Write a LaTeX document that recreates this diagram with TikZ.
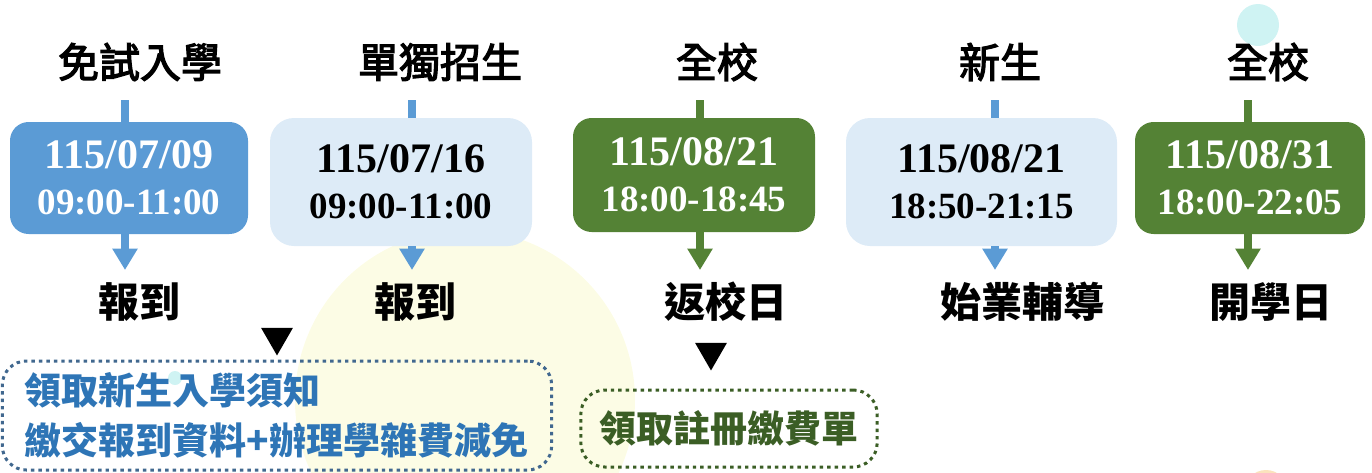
\documentclass[tikz,border=0pt]{standalone}
\usepackage{fontspec}
\setmainfont{Liberation Serif}
\newfontfamily\cjk{Noto Sans CJK TC}
\newfontfamily\cjkmid{Noto Sans CJK TC}[RawFeature={embolden=3}]
\usepackage{tikz}
\usetikzlibrary{positioning,shapes.geometric,arrows.meta}

\definecolor{boxblue}{HTML}{5B9BD5}
\definecolor{paleblue}{HTML}{DDEBF7}
\definecolor{boxgreen}{HTML}{548235}
\definecolor{noteblue}{HTML}{2E75B6}
\definecolor{noteline}{HTML}{41688F}
\definecolor{notegreen}{HTML}{3B5E25}
\definecolor{paleyellow}{HTML}{FCFCE5}
\definecolor{paleaqua}{HTML}{CFF3F3}
\definecolor{paleorange}{HTML}{FBE3BD}

\newcommand{\bigdate}[2]{{\fontsize{31.5}{34.5}\selectfont #1}\\#2}

\tikzset{
	datebox/.style={rectangle, rounded corners=14pt, align=center, inner sep=0pt, font=\bfseries\fontsize{27.75}{34.5}\selectfont},
	darkbox/.style={datebox, fill=#1, text=white},
	lightbox/.style={datebox, fill=paleblue, text=black, rounded corners=18pt},
	heading/.style={font=\cjkmid\fontsize{30.75}{36}\selectfont, inner sep=0pt},
	tag/.style={font=\cjk\bfseries\fontsize{30.75}{36}\selectfont, inner sep=0pt},
	stem/.style={line width=6pt, draw=#1},
	stemtip/.style={stem=#1, -{Triangle[width=18pt,length=16pt]}},
	notebox/.style={draw=#1, line width=2.25pt, dash pattern=on 2.6pt off 3pt, rounded corners=18pt, align=left, font=\cjk\bfseries\fontsize{27.75}{37.5}\selectfont},
	pointer/.style={regular polygon, regular polygon sides=3, shape border rotate=180, fill=black, minimum size=27.7pt, inner sep=0pt},
}

\begin{document}
\begin{tikzpicture}[x=0.75pt, y=-0.75pt]
	\useasboundingbox (0,0) rectangle (1372,472);
	\begin{scope}
		\clip (0,0) rectangle (1372,472);
		\fill[paleyellow] (465,400) circle[radius=127.5pt];
		\fill[paleaqua] (1258,25) circle[radius=15.75pt];
		\fill[paleaqua] (175,378) circle[radius=5.25pt];
		\fill[paleorange] (1266,492) circle[radius=16.5pt];
	\end{scope}

	\node[heading] (examtitle) at (140,62) {免試入學};
	\node[heading] (solotitle) at (440,62) {單獨招生};
	\node[heading] (backtitle) at (717,62) {全校};
	\node[heading] (freshtitle) at (1000,62) {新生};
	\node[heading] (opentitle) at (1268,62) {全校};

	\node[darkbox=boxblue, minimum width=178.5pt, minimum height=84pt] (exam) at (129,178) {\bigdate{115/07/09}{09:00-11:00}};
	\node[lightbox, minimum width=196.5pt, minimum height=96pt] (solo) at (401,182) {\bigdate{115/07/16}{09:00-11:00}};
	\node[darkbox=boxgreen, minimum width=181.5pt, minimum height=85.5pt] (back) at (694,175) {\bigdate{115/08/21}{18:00-18:45}};
	\node[lightbox, minimum width=203.25pt, minimum height=96pt] (fresh) at (981.5,182) {\bigdate{115/08/21}{18:50-21:15}};
	\node[darkbox=boxgreen, minimum width=172.5pt, minimum height=84pt] (open) at (1250,178) {\bigdate{115/08/31}{18:00-22:05}};

	\node[tag] (examtag) at (139,302) {報到};
	\node[tag] (solotag) at (415,302) {報到};
	\node[tag] (backtag) at (726,302) {返校日};
	\node[tag] (freshtag) at (1022,302) {始業輔導};
	\node[tag] (opentag) at (1271,302) {開學日};

	\coordinate (examtop) at (125,100);
	\coordinate (solotop) at (412,100);
	\coordinate (backtop) at (700,100);
	\coordinate (freshtop) at (995,100);
	\coordinate (opentop) at (1248,100);
	\coordinate (examend) at (125,270);
	\coordinate (soloend) at (412,270);
	\coordinate (backend) at (700,270);
	\coordinate (freshend) at (995,270);
	\coordinate (openend) at (1248,270);

	\draw[stem=boxblue] (examtop) -- (examtop |- exam.north);
	\draw[stemtip=boxblue] (examtop |- exam.south) -- (examend);
	\draw[stem=boxblue] (solotop) -- (solotop |- solo.north);
	\draw[stemtip=boxblue] (solotop |- solo.south) -- (soloend);
	\draw[stem=boxgreen] (backtop) -- (backtop |- back.north);
	\draw[stemtip=boxgreen] (backtop |- back.south) -- (backend);
	\draw[stem=boxblue] (freshtop) -- (freshtop |- fresh.north);
	\draw[stemtip=boxblue] (freshtop |- fresh.south) -- (freshend);
	\draw[stem=boxgreen] (opentop) -- (opentop |- open.north);
	\draw[stemtip=boxgreen] (opentop |- open.south) -- (openend);

	\node[pointer] (examptr) at (277,337) {};
	\node[pointer] (backptr) at (711,352) {};

	\node[notebox=noteline, text=noteblue, text width=378pt, inner xsep=17pt, minimum height=81.75pt] (examnote) at (277,415.5) {領取新生入學須知\\繳交報到資料+辦理學雜費減免};
	\node[notebox=notegreen, text=notegreen, inner xsep=14pt, minimum height=57.75pt] (backnote) at (729,428.5) {領取註冊繳費單};

	%\node[below=of examnote] (extra) {};
\end{tikzpicture}
\end{document}
